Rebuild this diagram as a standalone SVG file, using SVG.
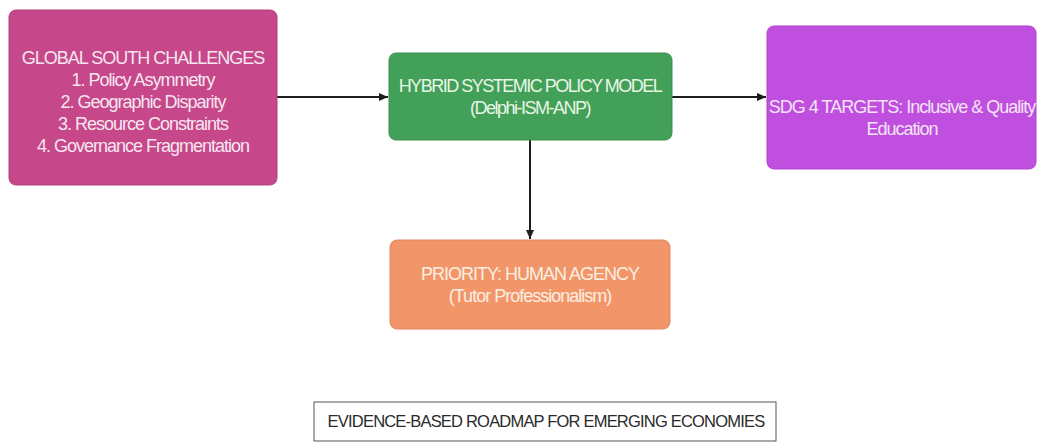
<svg xmlns="http://www.w3.org/2000/svg" width="1037" height="448" viewBox="0 0 1037 448">
<defs>
<marker id="ah" markerWidth="10" markerHeight="10" refX="9" refY="5" orient="auto" markerUnits="userSpaceOnUse">
<path d="M0,1 L9,5 L0,9 Z" fill="#1e1e1e"/>
</marker>
<style>
.t{font-family:"Liberation Sans",Arial,sans-serif;font-size:18px;letter-spacing:-1px;text-anchor:middle}
.edge{stroke:#1e1e1e;stroke-width:2;fill:none;marker-end:url(#ah)}
</style>
</defs>
<rect width="1037" height="448" fill="#ffffff"/>
<g id="connectors">
<line class="edge" x1="277" y1="97" x2="388" y2="97"/>
<line class="edge" x1="672" y1="97" x2="766" y2="97"/>
<line class="edge" x1="530" y1="140" x2="530" y2="239"/>
</g>
<g id="challenges">
<rect x="9" y="10" width="268" height="175" rx="7" fill="#c6478a" stroke="#b23e7a" stroke-width="1"/>
<text class="t" fill="#f6e6f0" x="143" y="64">GLOBAL SOUTH CHALLENGES</text>
<text class="t" fill="#f6e6f0" x="143" y="86">1. Policy Asymmetry</text>
<text class="t" fill="#f6e6f0" x="143" y="108">2. Geographic Disparity</text>
<text class="t" fill="#f6e6f0" x="143" y="130">3. Resource Constraints</text>
<text class="t" fill="#f6e6f0" x="143" y="152">4. Governance Fragmentation</text>
</g>
<g id="model">
<rect x="389" y="53" width="283" height="87" rx="7" fill="#42a058" stroke="#3a914f" stroke-width="1"/>
<text class="t" fill="#e8f6e6" style="letter-spacing:-1.5px" x="530" y="92">HYBRID SYSTEMIC POLICY MODEL</text>
<text class="t" fill="#e8f6e6" style="letter-spacing:-1.5px" x="530" y="114">(Delphi-ISM-ANP)</text>
</g>
<g id="sdg">
<rect x="767" y="26" width="269" height="143" rx="7" fill="#c04fe0" stroke="#ad45cc" stroke-width="1"/>
<text class="t" fill="#f4e4f6" x="902" y="113">SDG 4 TARGETS: Inclusive &amp; Quality</text>
<text class="t" fill="#f4e4f6" x="902" y="135">Education</text>
</g>
<g id="priority">
<rect x="390" y="240" width="280" height="89" rx="7" fill="#f2966a" stroke="#e3885f" stroke-width="1"/>
<text class="t" fill="#fbeee2" x="530" y="280">PRIORITY: HUMAN AGENCY</text>
<text class="t" fill="#fbeee2" x="530" y="302">(Tutor Professionalism)</text>
</g>
<g id="roadmap">
<rect x="314" y="402" width="462" height="39" fill="#ffffff" stroke="#555555" stroke-width="1"/>
<text class="t" fill="#2a2a2a" style="font-size:16.5px;letter-spacing:-0.8px" x="546" y="427">EVIDENCE-BASED ROADMAP FOR EMERGING ECONOMIES</text>
</g>
</svg>
